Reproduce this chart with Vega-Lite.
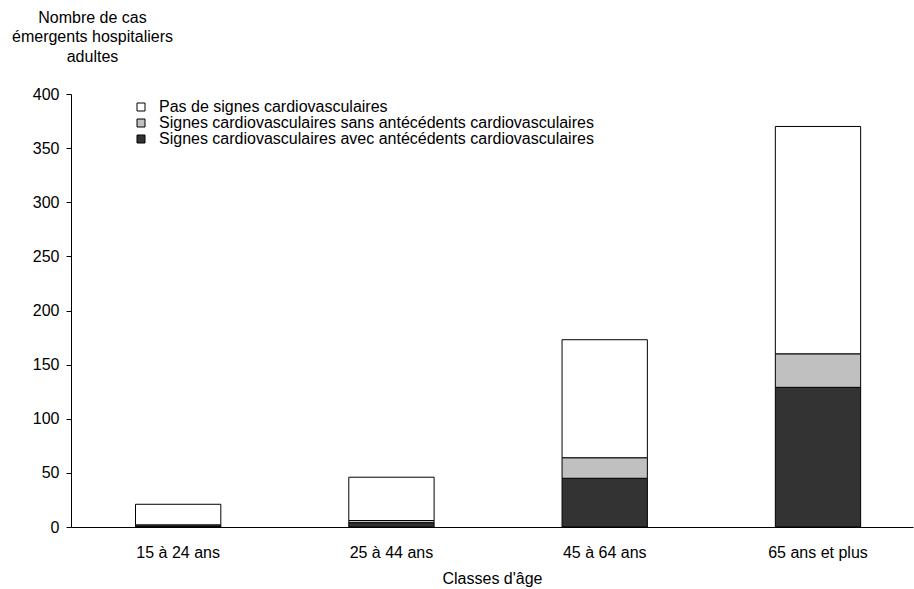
{
  "$schema": "https://vega.github.io/schema/vega-lite/v6.json",
  "autosize": {"type": "none"},
  "width": 842,
  "height": 433,
  "padding": {"left": 71, "top": 94, "right": 1, "bottom": 62},
  "background": "white",
  "config": {
    "view": {"stroke": null},
    "font": "Liberation Sans",
    "axis": {"labelFont": "Liberation Sans", "titleFont": "Liberation Sans", "labelColor": "black", "titleColor": "black", "domainColor": "black", "tickColor": "black", "labelFontSize": 16, "titleFontSize": 16, "titleFontWeight": "normal", "grid": false},
    "legend": {"labelFont": "Liberation Sans", "labelColor": "black", "labelFontSize": 16}
  },
  "data": {
    "values": [
      {"age": "15 à 24 ans", "groupe": "Signes cardiovasculaires avec antécédents cardiovasculaires", "rang": 1, "n": 1},
      {"age": "15 à 24 ans", "groupe": "Signes cardiovasculaires sans antécédents cardiovasculaires", "rang": 2, "n": 1},
      {"age": "15 à 24 ans", "groupe": "Pas de signes cardiovasculaires", "rang": 3, "n": 19},
      {"age": "25 à 44 ans", "groupe": "Signes cardiovasculaires avec antécédents cardiovasculaires", "rang": 1, "n": 4},
      {"age": "25 à 44 ans", "groupe": "Signes cardiovasculaires sans antécédents cardiovasculaires", "rang": 2, "n": 2},
      {"age": "25 à 44 ans", "groupe": "Pas de signes cardiovasculaires", "rang": 3, "n": 40},
      {"age": "45 à 64 ans", "groupe": "Signes cardiovasculaires avec antécédents cardiovasculaires", "rang": 1, "n": 45},
      {"age": "45 à 64 ans", "groupe": "Signes cardiovasculaires sans antécédents cardiovasculaires", "rang": 2, "n": 19},
      {"age": "45 à 64 ans", "groupe": "Pas de signes cardiovasculaires", "rang": 3, "n": 109},
      {"age": "65 ans et plus", "groupe": "Signes cardiovasculaires avec antécédents cardiovasculaires", "rang": 1, "n": 129},
      {"age": "65 ans et plus", "groupe": "Signes cardiovasculaires sans antécédents cardiovasculaires", "rang": 2, "n": 31},
      {"age": "65 ans et plus", "groupe": "Pas de signes cardiovasculaires", "rang": 3, "n": 210}
    ]
  },
  "mark": {"type": "bar", "stroke": "black", "strokeWidth": 1},
  "encoding": {
    "x": {
      "field": "age", "type": "nominal", "sort": null,
      "scale": {"paddingInner": 0.6, "paddingOuter": 0.274, "align": 0.552},
      "axis": {"title": "Classes d'âge", "labelAngle": 0, "ticks": false, "labelPadding": 17, "titlePadding": 10, "domainWidth": 1}
    },
    "y": {
      "field": "n", "type": "quantitative", "stack": "zero",
      "scale": {"domain": [0, 400], "nice": false},
      "axis": {
        "values": [0, 50, 100, 150, 200, 250, 300, 350, 400],
        "tickSize": 5, "labelPadding": 7,
        "title": ["Nombre de cas", "émergents hospitaliers", "adultes"],
        "titleAngle": 0, "titleAlign": "center", "titleBaseline": "alphabetic",
        "titleX": 21, "titleY": -72, "titleLineHeight": 19.5
      }
    },
    "order": {"field": "rang", "type": "quantitative", "sort": "ascending"},
    "color": {
      "field": "groupe", "type": "nominal",
      "scale": {
        "domain": ["Pas de signes cardiovasculaires", "Signes cardiovasculaires sans antécédents cardiovasculaires", "Signes cardiovasculaires avec antécédents cardiovasculaires"],
        "range": ["#ffffff", "#c0c0c0", "#333333"]
      },
      "legend": {
        "title": null, "orient": "none", "legendX": 62, "legendY": 5,
        "symbolType": "square", "symbolSize": 64, "symbolStrokeColor": "black", "symbolStrokeWidth": 1, "symbolOpacity": 1,
        "labelOffset": 10, "rowPadding": 0, "labelLimit": 0
      }
    }
  }
}
